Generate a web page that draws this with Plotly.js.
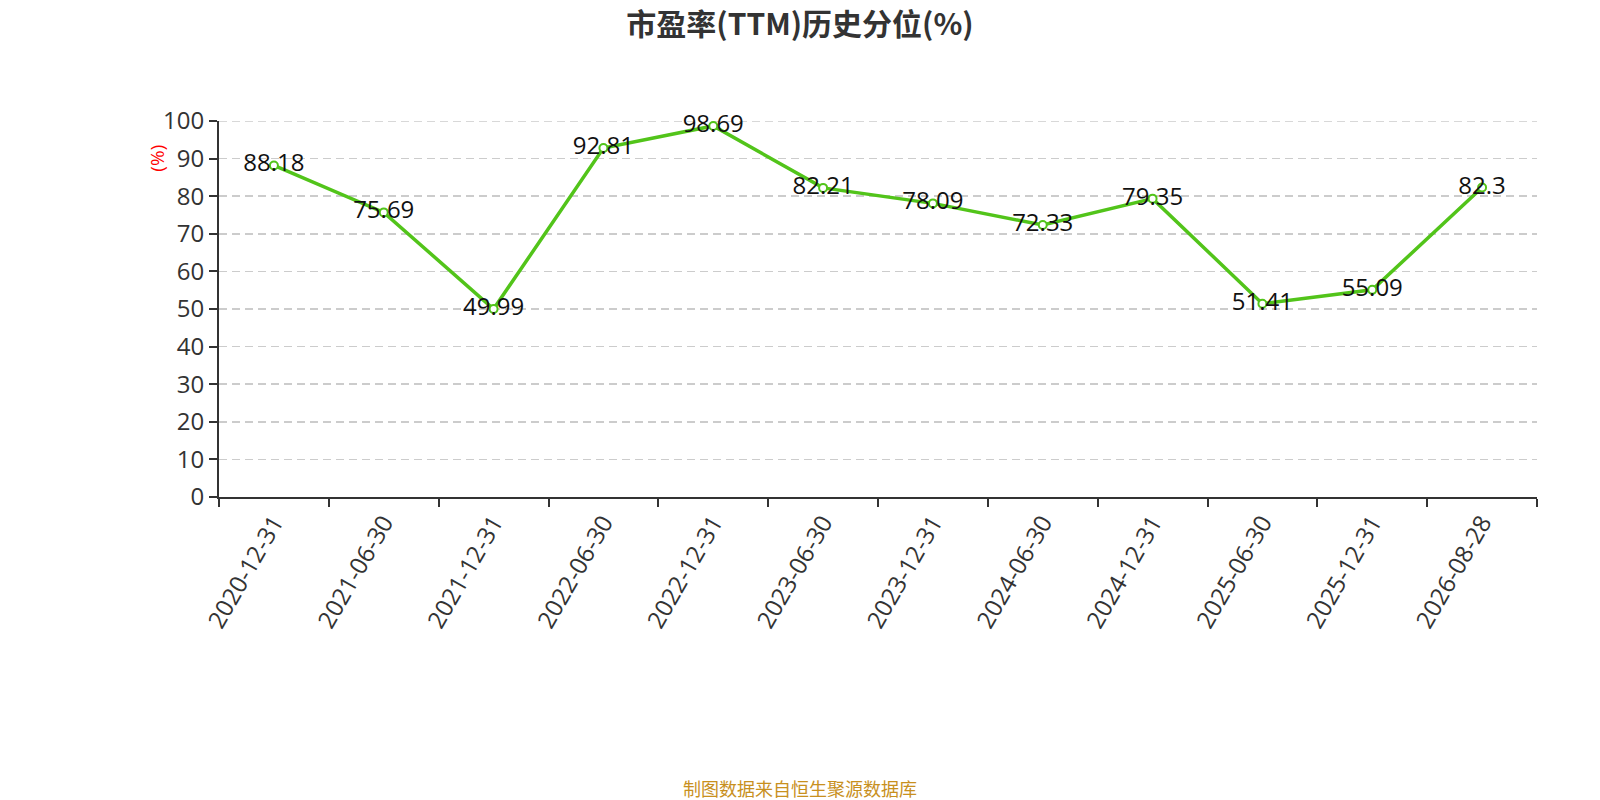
<!DOCTYPE html>
<html>
<head>
<meta charset="utf-8">
<script src="https://cdn.plot.ly/plotly-3.0.1.min.js"></script>
<style>
  html, body { margin: 0; padding: 0; background: #fff; }
  #chart { width: 1600px; height: 800px; }
</style>
</head>
<body>
<div id="chart"></div>
<script>
var dates = ["2020-12-31", "2021-06-30", "2021-12-31", "2022-06-30", "2022-12-31", "2023-06-30",
             "2023-12-31", "2024-06-30", "2024-12-31", "2025-06-30", "2025-12-31", "2026-08-28"];
var percentile = [88.18, 75.69, 49.99, 92.81, 98.69, 82.21, 78.09, 72.33, 79.35, 51.41, 55.09, 82.3];
var yTicks = [0, 10, 20, 30, 40, 50, 60, 70, 80, 90, 100];

var baseFont = "Open Sans, Noto Sans CJK SC, sans-serif";
var gridDash = "8px,5px";

var data = [
  {
    type: "scatter",
    mode: "lines+markers+text",
    x: dates,
    y: percentile,
    text: percentile.map(String),
    textposition: "middle center",
    textfont: { size: 24, color: "#111", family: baseFont },
    line: { color: "#52c41a", width: 3.5 },
    marker: { size: 8, color: "#fff", line: { color: "#52c41a", width: 2 } },
    cliponaxis: false,
    hoverinfo: "x+y"
  }
];

var layout = {
  width: 1600,
  height: 800,
  margin: { t: 121, r: 63, l: 219, b: 303 },
  paper_bgcolor: "#fff",
  plot_bgcolor: "#fff",
  showlegend: false,
  font: { family: baseFont, color: "#333" },
  title: {
    text: "<b>市盈率(TTM)历史分位(%)</b>",
    x: 0.5,
    xanchor: "center",
    y: 0.97,
    yanchor: "middle",
    font: { size: 30, color: "#333", family: "Noto Sans CJK SC, sans-serif" }
  },
  xaxis: {
    type: "category",
    range: [-0.5, dates.length - 0.5],
    tickson: "boundaries",
    ticks: "outside",
    ticklen: 8,
    tickwidth: 2,
    tickcolor: "#333",
    tickangle: -60,
    tickfont: { size: 24, color: "#333" },
    showline: true,
    linecolor: "#333",
    linewidth: 2,
    showgrid: false,
    zeroline: false,
    fixedrange: true
  },
  yaxis: {
    range: [0, 100],
    tickvals: yTicks,
    ticks: "outside",
    ticklen: 8,
    tickwidth: 2,
    tickcolor: "#333",
    tickfont: { size: 24, color: "#333" },
    showline: true,
    linecolor: "#333",
    linewidth: 2,
    showgrid: true,
    gridcolor: "#cccccc",
    griddash: gridDash,
    gridwidth: 1.5,
    zeroline: false,
    fixedrange: true
  },
  shapes: [
    {
      type: "line",
      xref: "paper",
      yref: "y",
      x0: 0,
      x1: 1,
      y0: yTicks[yTicks.length - 1],
      y1: yTicks[yTicks.length - 1],
      line: { color: "#cccccc", width: 1.5, dash: gridDash },
      layer: "below"
    }
  ],
  annotations: [
    {
      text: "(%)",
      xref: "paper",
      yref: "paper",
      x: -0.047,
      y: 0.9,
      xanchor: "center",
      yanchor: "middle",
      textangle: -90,
      showarrow: false,
      font: { size: 19, color: "#ff0000" }
    },
    {
      text: "制图数据来自恒生聚源数据库",
      xref: "paper",
      yref: "paper",
      x: 0.5 - (219 - 63) / 2 / 1318,
      y: -0.775,
      xanchor: "center",
      yanchor: "middle",
      showarrow: false,
      font: { size: 18, color: "#c8901e", family: "Noto Sans CJK SC, sans-serif" }
    }
  ]
};

Plotly.newPlot("chart", data, layout, { displayModeBar: false, staticPlot: true });
</script>
</body>
</html>
